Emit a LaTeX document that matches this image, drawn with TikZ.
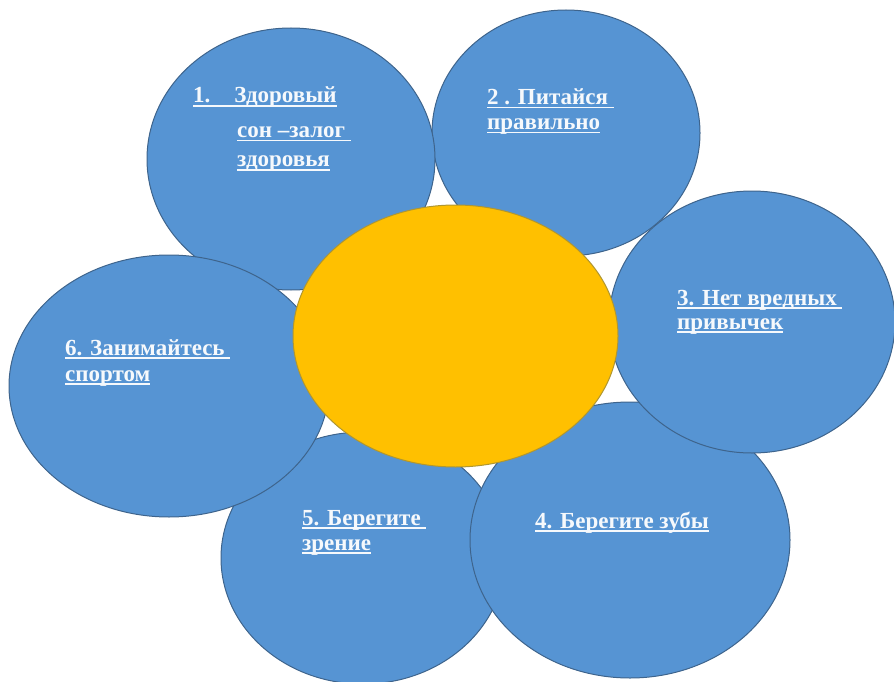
\documentclass[tikz,border=0pt]{standalone}
\usepackage{fontspec}
\setmainfont{Liberation Serif}
\newfontfamily\petalfont{Liberation Serif}[BoldFont={Liberation Serif Bold}]
\usetikzlibrary{shapes.geometric}
\definecolor{petal}{RGB}{86,148,211}
\definecolor{petaledge}{RGB}{62,100,140}
\definecolor{sun}{RGB}{255,192,0}
\definecolor{sunedge}{RGB}{175,150,50}
\definecolor{labeltext}{RGB}{246,249,252}
\newcommand\ulbox[1]{\setbox0\hbox{#1}\rlap{\rule[-3.5pt]{\wd0}{1.5pt}}\box0}
\begin{document}
\begin{tikzpicture}[x=1pt,y=-1pt,
  petalshape/.style={ellipse, draw=petaledge, line width=1pt, fill=petal, inner sep=0pt},
  sunshape/.style={ellipse, draw=sunedge, line width=1pt, fill=sun, inner sep=0pt},
  lbl/.style={anchor=base west, inner sep=0pt, text=labeltext, font=\petalfont\bfseries\fontsize{23}{26}\selectfont}]
\useasboundingbox (0,0) rectangle (894,682);
% petals
\node[petalshape, minimum width=268pt, minimum height=246pt] (p2) at (566,133) {};
\node[petalshape, minimum width=288pt, minimum height=262pt] (p1) at (291,159) {};
\node[petalshape, minimum width=284pt, minimum height=252pt] (p5) at (363,558) {};
\node[petalshape, minimum width=320pt, minimum height=276pt] (p4) at (630,540) {};
\node[petalshape, minimum width=286pt, minimum height=262pt] (p3) at (752,322) {};
\node[petalshape, minimum width=320pt, minimum height=262pt] (p6) at (169,386) {};
% centre
\node[sunshape, minimum width=325pt, minimum height=262pt] (sun) at (455.5,336) {};
% labels
\node[lbl] (t1a) at (193,103) {\ulbox{1.\hspace{24pt}Здоровый}};
\node[lbl] (t1b) at (237,138) {\ulbox{сон –залог\ }};
\node[lbl] (t1c) at (237,167) {\ulbox{здоровья}};
\node[lbl] (t2a) at (487,105) {\ulbox{2 . Питайся\ }};
\node[lbl] (t2b) at (487,130) {\ulbox{правильно}};
\node[lbl] (t3a) at (677,305) {\ulbox{3. Нет вредных\ }};
\node[lbl] (t3b) at (677,329) {\ulbox{привычек}};
\node[lbl] (t6a) at (65,355) {\ulbox{6. Занимайтесь\ }};
\node[lbl] (t6b) at (65,381) {\ulbox{спортом}};
\node[lbl] (t5a) at (302,525) {\ulbox{5. Берегите\ }};
\node[lbl] (t5b) at (302,550) {\ulbox{зрение}};
\node[lbl] (t4a) at (535,528) {\ulbox{4. Берегите зубы}};
\end{tikzpicture}
\end{document}
